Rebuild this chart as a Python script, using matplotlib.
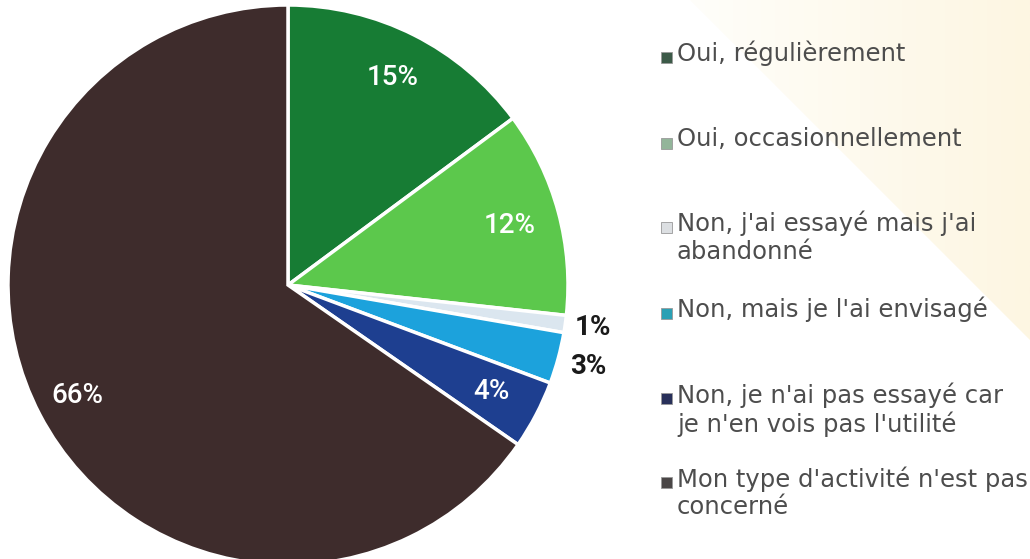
import numpy as np
import matplotlib
matplotlib.use("Agg")
import matplotlib.pyplot as plt
from matplotlib.patches import Rectangle, Polygon

# données du graphique
categories = [
    "Oui, régulièrement",
    "Oui, occasionnellement",
    "Non, j'ai essayé mais j'ai\nabandonné",
    "Non, mais je l'ai envisagé",
    "Non, je n'ai pas essayé car\nje n'en vois pas l'utilité",
    "Mon type d'activité n'est pas\nconcerné",
]
values = [15, 12, 1, 3, 4, 66]
pct_labels = ["15%", "12%", "1%", "3%", "4%", "66%"]
colors = ["#177c34", "#5cc84c", "#dbe6ef", "#1ca2dc", "#1e3f90", "#3e2c2c"]
legend_colors = ["#3c5a48", "#93b59a", "#dcdfe2", "#2aa0b4", "#28305a", "#4a4646"]

plt.rcParams["font.family"] = ["Roboto", "DejaVu Sans"]

W, H = 1030, 559
fig = plt.figure(figsize=(W / 100, H / 100), dpi=100)
fig.patch.set_facecolor("white")

# fond jaune pâle en triangle à droite
bg = fig.add_axes([0, 0, 1, 1], zorder=-1)
bg.set_xlim(0, W)
bg.set_ylim(H, 0)
bg.axis("off")
grad = np.linspace(0, 1, 256).reshape(1, -1)
cmap = matplotlib.colors.LinearSegmentedColormap.from_list("jaune", ["#fffefa", "#fdf6e2"])
img = bg.imshow(grad, extent=[690, W, H, 0], cmap=cmap, aspect="auto")
tri = Polygon([[690, 0], [W, 0], [W, 340]], closed=True, transform=bg.transData)
img.set_clip_path(tri)

# camembert
cx, cy, r = 288, 285, 280
ax = fig.add_axes([(cx - r) / W, (H - cy - r) / H, 2 * r / W, 2 * r / H])
wedges, _ = ax.pie(values, colors=colors, startangle=90, counterclock=False,
                   radius=1, wedgeprops=dict(edgecolor="white", linewidth=2.5))
ax.set_xlim(-1, 1)
ax.set_ylim(-1, 1)
ax.set_aspect("equal")
ax.axis("off")

dist = [0.83, 0.82, 1.10, 1.11, 0.82, 0.85]
txt_col = ["white", "white", "#1a1a1a", "#1a1a1a", "white", "white"]
for w, lab, d, c in zip(wedges, pct_labels, dist, txt_col):
    ang = np.deg2rad((w.theta1 + w.theta2) / 2)
    outside = d > 1
    ax.text(d * np.cos(ang), d * np.sin(ang), lab, color=c, ha="center", va="center",
            fontsize=20, fontweight="bold" if outside else "medium",
            clip_on=False)

# légende
ys = [57, 143, 227, 313, 398, 482]
for lab, col, y in zip(categories, legend_colors, ys):
    bg.add_patch(Rectangle((661, y - 5.5), 11, 11, facecolor=col, edgecolor="#999999", linewidth=0.6))
    bg.text(677, y - 16, lab, fontsize=17.5, color="#4d4d4d", ha="left", va="top",
            linespacing=1.2, family="DejaVu Sans")

fig.savefig("out.png", dpi=100)
